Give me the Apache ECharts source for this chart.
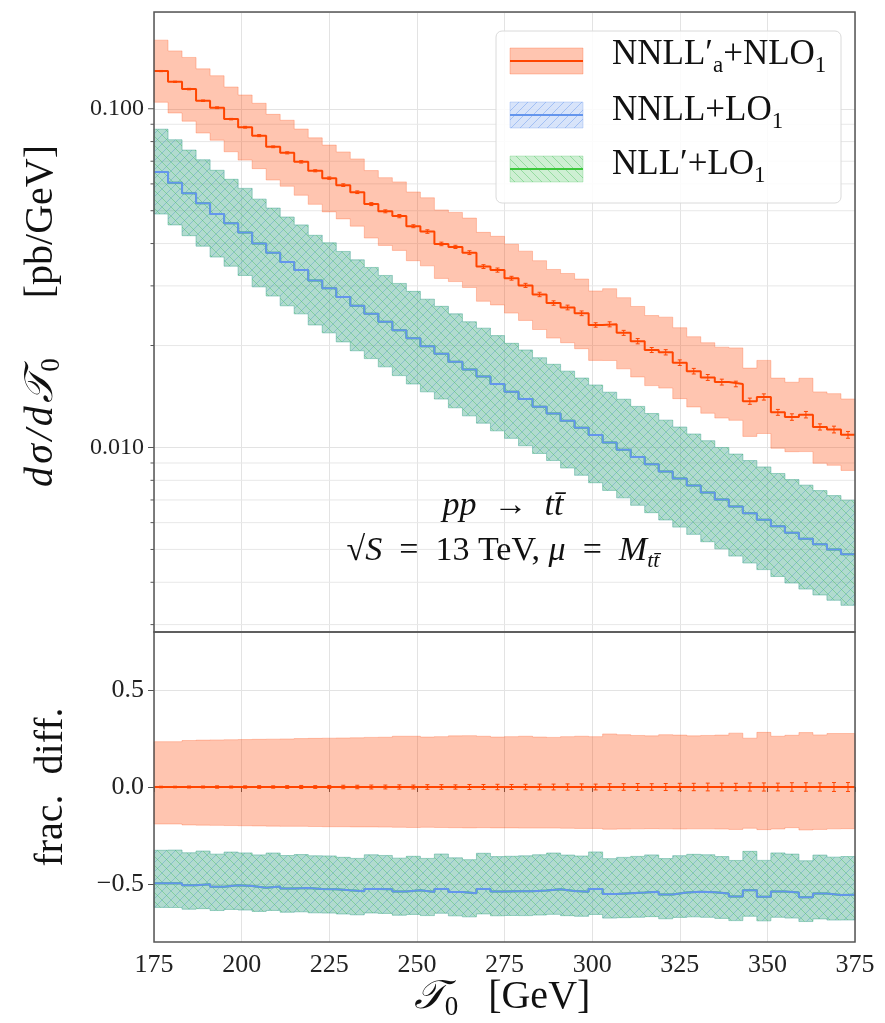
<!DOCTYPE html>
<html>
<head>
<meta charset="utf-8">
<script src="https://cdn.jsdelivr.net/npm/echarts@6/dist/echarts.min.js"></script>
<style>
html, body { margin: 0; padding: 0; background: #fff; }
#chart { width: 885px; height: 1023px; }
</style>
</head>
<body>
<div id="chart"></div>
<script>
// bin edges of the tau_0 histogram [GeV]
var binEdges = [175,179,183,187,191,195,199,203,207,211,215,219,223,227,231,235,239,243,247,251,255,259,263,267,271,275,279,283,287,291,295,299,303,307,311,315,319,323,327,331,335,339,343,347,351,355,359,363,367,371,375];

// NNLL'_a+NLO_1 central value [pb/GeV]
var orangeCentral = [0.1292,0.1201,0.1143,0.1056,0.1007,0.0932,0.0882,0.0833,0.0772,0.0741,
                     0.0697,0.0656,0.0624,0.0595,0.0567,0.0523,0.0498,0.0482,0.0450,0.0434,
                     0.0399,0.0391,0.0376,0.0342,0.0334,0.0316,0.0301,0.0283,0.0267,0.0259,
                     0.0249,0.0230,0.0231,0.0218,0.0206,0.0194,0.0191,0.0178,0.0168,0.0161,
                     0.0156,0.0154,0.0137,0.0141,0.0127,0.0123,0.0125,0.0115,0.0113,0.0109];
// NNLL'_a+NLO_1 scale band and MC error, relative to its central value
var orangeHi = [0.234,0.234,0.240,0.242,0.243,0.244,0.245,0.246,0.247,0.248,
                0.250,0.251,0.252,0.253,0.254,0.256,0.257,0.262,0.262,0.258,
                0.260,0.264,0.265,0.262,0.258,0.260,0.262,0.258,0.256,0.260,
                0.262,0.260,0.274,0.270,0.266,0.264,0.270,0.268,0.264,0.266,
                0.268,0.278,0.252,0.282,0.262,0.267,0.281,0.269,0.276,0.276];
var orangeLo = [-0.191,-0.191,-0.196,-0.197,-0.198,-0.199,-0.200,-0.201,-0.202,-0.203,
                -0.203,-0.204,-0.205,-0.205,-0.206,-0.206,-0.207,-0.208,-0.209,-0.208,
                -0.209,-0.210,-0.211,-0.210,-0.211,-0.211,-0.212,-0.212,-0.212,-0.213,
                -0.214,-0.214,-0.218,-0.217,-0.216,-0.215,-0.216,-0.217,-0.216,-0.216,
                -0.217,-0.219,-0.213,-0.220,-0.217,-0.210,-0.222,-0.219,-0.216,-0.215];
var statErr = [0.004,0.004,0.005,0.005,0.006,0.005,0.006,0.007,0.006,0.007,
               0.008,0.007,0.008,0.009,0.009,0.010,0.010,0.011,0.010,0.012,
               0.012,0.011,0.013,0.013,0.014,0.013,0.014,0.015,0.015,0.016,
               0.016,0.015,0.017,0.017,0.018,0.017,0.018,0.019,0.019,0.020,
               0.020,0.019,0.021,0.021,0.020,0.022,0.022,0.021,0.023,0.023];

// NNLL+LO_1 (and NLL'+LO_1, on top of it) central value and band [pb/GeV]
var blueCentral = [0.0651,0.0605,0.0563,0.0526,0.0489,0.0459,0.0431,0.0400,0.0376,0.0353,
                   0.0334,0.0311,0.0295,0.0278,0.0262,0.0248,0.0235,0.0222,0.0210,0.0199,
                   0.0189,0.0179,0.0170,0.0162,0.0154,0.0146,0.0139,0.0132,0.0126,0.0120,
                   0.01143,0.01088,0.01035,0.00985,0.00937,0.00892,0.00850,0.00810,0.00772,0.00736,
                   0.00702,0.00670,0.00640,0.00612,0.00585,0.00560,0.00538,0.00518,0.00500,0.00484];
var bandHi = [0.0870,0.0810,0.0755,0.0707,0.0658,0.0619,0.0582,0.0541,0.0509,0.0479,
              0.0454,0.0423,0.0402,0.0379,0.0358,0.0340,0.0322,0.0305,0.0289,0.0274,
              0.0261,0.0248,0.0235,0.0225,0.0214,0.0203,0.0194,0.0184,0.0176,0.0168,
              0.01603,0.01529,0.01456,0.01388,0.01322,0.01260,0.01204,0.01149,0.01096,0.01047,
              0.01000,0.00956,0.00915,0.00876,0.00838,0.00804,0.00774,0.00746,0.00721,0.00699];
var bandLo = [0.0489,0.0454,0.0422,0.0393,0.0365,0.0343,0.0322,0.0298,0.0280,0.0262,
              0.0248,0.0230,0.0218,0.0205,0.0193,0.0183,0.0173,0.0163,0.0154,0.0146,
              0.0139,0.0131,0.0124,0.0118,0.0112,0.01064,0.01012,0.00960,0.00915,0.00870,
              0.00828,0.00787,0.00747,0.00710,0.00675,0.00642,0.00611,0.00582,0.00554,0.00527,
              0.00502,0.00478,0.00456,0.00436,0.00416,0.00398,0.00382,0.00367,0.00354,0.00342];

var xTicks = [175,200,225,250,275,300,325,350,375];
var yMajorTicks = [0.01, 0.1];
var yMinorTicks = [0.003,0.004,0.005,0.006,0.007,0.008,0.009,0.02,0.03,0.04,0.05,0.06,0.07,0.08,0.09];
var fracTicks = [-0.5, 0, 0.5];

var FONT = "'Liberation Serif', 'DejaVu Serif', serif";
var ORANGE = '#ff4500', BLUE = '#6495ed', GREEN = '#3cc83c';
var nBins = binEdges.length - 1;

// upper panel: orange band in absolute units
function absolute(frac) {
	return orangeCentral.map(function (c, i) { return c * (1 + frac[i]); });
}
// lower panel: fractional difference to the NNLL'_a+NLO_1 central value
function fracDiff(vals) {
	return vals.map(function (v, i) { return v / orangeCentral[i] - 1; });
}
var zeros = fracDiff(orangeCentral);

function hatch(bg, line, dir) {
	var s = 9, c = document.createElement('canvas');
	c.width = s; c.height = s;
	var g = c.getContext('2d');
	g.fillStyle = bg; g.fillRect(0, 0, s, s);
	g.strokeStyle = line; g.lineWidth = 1;
	g.beginPath();
	if (dir > 0) {
		g.moveTo(0, s); g.lineTo(s, 0);
		g.moveTo(-1, 1); g.lineTo(1, -1);
		g.moveTo(s - 1, s + 1); g.lineTo(s + 1, s - 1);
	} else {
		g.moveTo(0, 0); g.lineTo(s, s);
		g.moveTo(-1, s - 1); g.lineTo(1, s + 1);
		g.moveTo(s - 1, -1); g.lineTo(s + 1, 1);
	}
	g.stroke();
	return { image: c, repeat: 'repeat' };
}
var orangeFill = 'rgba(255,69,0,0.31)';
var blueFill = hatch('rgba(100,149,237,0.25)', 'rgba(100,149,237,0.45)', 1);
var greenFill = hatch('rgba(60,190,80,0.25)', 'rgba(60,190,80,0.4)', -1);

function stepData(vals) {
	var d = [];
	for (var i = 0; i < nBins; i++) d.push([binEdges[i], vals[i]]);
	d.push([binEdges[nBins], vals[nBins - 1]]);
	return d;
}

function band(name, gi, lo, hi, fill, stroke, z) {
	return {
		name: name, type: 'custom', xAxisIndex: gi, yAxisIndex: gi, z: z, silent: true,
		data: lo.map(function (v, i) { return [binEdges[i], v, hi[i]]; }),
		encode: { x: 0, y: [1, 2] },
		renderItem: function (params, api) {
			if (params.dataIndex !== 0) return;
			var pts = [], i;
			for (i = 0; i < nBins; i++) {
				pts.push(api.coord([binEdges[i], hi[i]]));
				pts.push(api.coord([binEdges[i + 1], hi[i]]));
			}
			for (i = nBins - 1; i >= 0; i--) {
				pts.push(api.coord([binEdges[i + 1], lo[i]]));
				pts.push(api.coord([binEdges[i], lo[i]]));
			}
			return { type: 'polygon', shape: { points: pts }, style: { fill: fill, stroke: stroke, lineWidth: 1 } };
		}
	};
}

function stepLine(name, gi, vals, color, z) {
	return {
		name: name, type: 'line', step: 'end', xAxisIndex: gi, yAxisIndex: gi, z: z,
		data: stepData(vals), symbol: 'none', silent: true,
		lineStyle: { color: color, width: 2 }
	};
}

function errorBars(gi, centre, rel) {
	return {
		type: 'custom', xAxisIndex: gi, yAxisIndex: gi, z: 8, silent: true,
		data: centre.map(function (v, i) { return [(binEdges[i] + binEdges[i + 1]) / 2, v, statErr[i]]; }),
		encode: { x: 0, y: 1 },
		renderItem: function (params, api) {
			var x = api.value(0), v = api.value(1), e = api.value(2);
			var a = rel ? api.coord([x, v * (1 + e)]) : api.coord([x, v + e]);
			var b = rel ? api.coord([x, v * (1 - e)]) : api.coord([x, v - e]);
			var st = { stroke: ORANGE, lineWidth: 1 };
			return { type: 'group', children: [
				{ type: 'line', shape: { x1: a[0], y1: a[1], x2: b[0], y2: b[1] }, style: st },
				{ type: 'line', shape: { x1: a[0] - 2, y1: a[1], x2: a[0] + 2, y2: a[1] }, style: st },
				{ type: 'line', shape: { x1: b[0] - 2, y1: b[1], x2: b[0] + 2, y2: b[1] }, style: st }
			] };
		}
	};
}

// ticks of the log axis: majors at the decades, minors at 2..9 x 10^n (with their grid lines)
var logTickSeries = {
	type: 'custom', xAxisIndex: 0, yAxisIndex: 0, z: 1, silent: true, clip: false,
	data: yMajorTicks.map(function (v) { return [175, v, 6]; })
		.concat(yMinorTicks.map(function (v) { return [175, v, 3.5]; })),
	encode: { x: 0, y: 1 },
	renderItem: function (params, api) {
		var p = api.coord([175, api.value(1)]);
		var r = api.coord([375, api.value(1)]);
		var len = api.value(2);
		var children = [
			{ type: 'line', shape: { x1: p[0] - len, y1: p[1], x2: p[0], y2: p[1] }, style: { stroke: '#555', lineWidth: 1 } }
		];
		if (len < 5) children.push({ type: 'line', shape: { x1: p[0], y1: p[1], x2: r[0], y2: r[1] }, style: { stroke: '#e8e8e8', lineWidth: 1 } });
		return { type: 'group', children: children };
	}
};

var chart = echarts.init(document.getElementById('chart'));

var gridLine = { show: true, lineStyle: { color: '#e3e3e3', width: 1 } };
function sub(size) {
	return { fontFamily: FONT, fontSize: size, lineHeight: size, verticalAlign: 'bottom', fill: '#111' };
}

var option = {
	animation: false,
	backgroundColor: '#fff',
	grid: [
		{ left: 154, top: 12, width: 701, height: 620, show: true, borderColor: '#555', borderWidth: 1.5, backgroundColor: 'transparent', z: 20 },
		{ left: 154, top: 632, width: 701, height: 310, show: true, borderColor: '#555', borderWidth: 1.5, backgroundColor: 'transparent', z: 20 }
	],
	xAxis: [
		{ gridIndex: 0, type: 'value', min: 175, max: 375, interval: 25,
		  axisLine: { show: false }, axisTick: { show: false }, axisLabel: { show: false }, splitLine: gridLine },
		{ gridIndex: 1, type: 'value', min: 175, max: 375, interval: 25,
		  axisLine: { show: false },
		  axisTick: { show: true, length: 5, lineStyle: { color: '#555' } },
		  axisLabel: { margin: 10, fontFamily: FONT, fontSize: 26, color: '#222' }, splitLine: gridLine }
	],
	yAxis: [
		{ gridIndex: 0, type: 'log', logBase: 10, min: 0.002853, max: 0.19303,
		  axisLine: { show: false }, axisTick: { show: false },
		  axisLabel: { margin: 10, fontFamily: FONT, fontSize: 24, color: '#222', formatter: function (v) {
			  for (var k = 0; k < yMajorTicks.length; k++) {
				  if (Math.abs(v - yMajorTicks[k]) < 1e-9) return yMajorTicks[k].toFixed(3);
			  }
			  return '';
		  } },
		  splitLine: gridLine },
		{ gridIndex: 1, type: 'value', min: -0.8, max: 0.8,
		  axisLine: { show: false },
		  axisTick: { show: true, length: 6, lineStyle: { color: '#555' }, customValues: fracTicks },
		  axisLabel: { margin: 10, fontFamily: FONT, fontSize: 26, color: '#222', customValues: fracTicks, formatter: function (v) {
			  return v.toFixed(1).replace('-', '\u2212');
		  } },
		  splitLine: gridLine }
	],
	series: [
		logTickSeries,
		band('NNLL+LO1 band', 0, bandLo, bandHi, blueFill, 'rgba(100,149,237,0.3)', 3),
		band('NLL\'+LO1 band', 0, bandLo, bandHi, greenFill, 'rgba(60,190,80,0.25)', 3),
		band('NNLL\'a+NLO1 band', 0, absolute(orangeLo), absolute(orangeHi), orangeFill, 'rgba(255,69,0,0.25)', 3),
		stepLine('NLL\'+LO1', 0, blueCentral, GREEN, 5),
		stepLine('NNLL+LO1', 0, blueCentral, BLUE, 6),
		stepLine('NNLL\'a+NLO1', 0, orangeCentral, ORANGE, 7),
		errorBars(0, orangeCentral, true),

		band('NNLL+LO1 ratio band', 1, fracDiff(bandLo), fracDiff(bandHi), blueFill, 'rgba(100,149,237,0.3)', 3),
		band('NLL\'+LO1 ratio band', 1, fracDiff(bandLo), fracDiff(bandHi), greenFill, 'rgba(60,190,80,0.25)', 3),
		band('NNLL\'a+NLO1 ratio band', 1, orangeLo, orangeHi, orangeFill, 'rgba(255,69,0,0.25)', 3),
		stepLine('NLL\'+LO1 ratio', 1, fracDiff(blueCentral), GREEN, 5),
		stepLine('NNLL+LO1 ratio', 1, fracDiff(blueCentral), BLUE, 6),
		stepLine('NNLL\'a+NLO1 ratio', 1, zeros, ORANGE, 7),
		errorBars(1, zeros, false)
	],
	graphic: [
		// legend
		{ type: 'rect', z: 100, shape: { x: 496, y: 31, width: 345, height: 172, r: 6 },
		  style: { fill: 'rgba(255,255,255,0.85)', stroke: '#dadada', lineWidth: 1 } },
		{ type: 'rect', z: 101, shape: { x: 510, y: 48, width: 73, height: 26 }, style: { fill: orangeFill, stroke: 'rgba(255,69,0,0.25)' } },
		{ type: 'line', z: 102, shape: { x1: 510, y1: 61, x2: 583, y2: 61 }, style: { stroke: ORANGE, lineWidth: 2 } },
		{ type: 'rect', z: 101, shape: { x: 510, y: 102, width: 73, height: 26 }, style: { fill: blueFill, stroke: 'rgba(100,149,237,0.3)' } },
		{ type: 'line', z: 102, shape: { x1: 510, y1: 115, x2: 583, y2: 115 }, style: { stroke: BLUE, lineWidth: 2 } },
		{ type: 'rect', z: 101, shape: { x: 510, y: 156, width: 73, height: 26 }, style: { fill: greenFill, stroke: 'rgba(60,190,80,0.25)' } },
		{ type: 'line', z: 102, shape: { x1: 510, y1: 169, x2: 583, y2: 169 }, style: { stroke: GREEN, lineWidth: 2 } },
		{ type: 'text', z: 102, x: 612, y: 55, style: {
			text: '{m|NNLL\u2032}{s|a}{m|+NLO}{s|1}', verticalAlign: 'middle',
			rich: { m: { fontFamily: FONT, fontSize: 35, lineHeight: 44, fill: '#111' }, s: sub(23) } } },
		{ type: 'text', z: 102, x: 612, y: 111, style: {
			text: '{m|NNLL+LO}{s|1}', verticalAlign: 'middle',
			rich: { m: { fontFamily: FONT, fontSize: 35, lineHeight: 44, fill: '#111' }, s: sub(23) } } },
		{ type: 'text', z: 102, x: 612, y: 165, style: {
			text: '{m|NLL\u2032+LO}{s|1}', verticalAlign: 'middle',
			rich: { m: { fontFamily: FONT, fontSize: 35, lineHeight: 44, fill: '#111' }, s: sub(23) } } },
		// process annotation
		{ type: 'text', z: 102, x: 503, y: 506, style: {
			text: '{i|pp}{m|  \u2192  }{i|tt\u0304}', align: 'center', verticalAlign: 'middle',
			rich: { i: { fontFamily: FONT, fontStyle: 'italic', fontSize: 34, fill: '#111' },
			        m: { fontFamily: FONT, fontSize: 34, fill: '#111' } } } },
		{ type: 'text', z: 102, x: 503, y: 551, style: {
			text: '{m|\u221a}{i|S}{m|  =  13 TeV, }{i|\u03bc}{m|  =  }{i|M}{s|tt\u0304}', align: 'center', verticalAlign: 'middle',
			rich: { i: { fontFamily: FONT, fontStyle: 'italic', fontSize: 34, lineHeight: 42, fill: '#111' },
			        m: { fontFamily: FONT, fontSize: 34, lineHeight: 42, fill: '#111' },
			        s: { fontFamily: FONT, fontStyle: 'italic', fontSize: 22, lineHeight: 21, verticalAlign: 'bottom', fill: '#111' } } } },
		// axis titles
		{ type: 'text', z: 102, x: 41, y: 316, rotation: Math.PI / 2, style: {
			text: '{i|d\u200a\u03c3\u200a/\u200ad\u200a\ud835\udcaf}{s|0}{m|\u2003\u2002[pb/GeV]}', align: 'center', verticalAlign: 'middle',
			rich: { i: { fontFamily: FONT, fontStyle: 'italic', fontSize: 40, lineHeight: 48, fill: '#111' },
			        m: { fontFamily: FONT, fontSize: 40, lineHeight: 48, fill: '#111' }, s: sub(27) } } },
		{ type: 'text', z: 102, x: 51, y: 787, rotation: Math.PI / 2, style: {
			text: 'frac.\u2002diff.', align: 'center', verticalAlign: 'middle',
			fontFamily: FONT, fontSize: 40, fill: '#111' } },
		{ type: 'text', z: 102, x: 502, y: 997, style: {
			text: '{i|\ud835\udcaf}{s|0}{m|   [GeV]}', align: 'center', verticalAlign: 'middle',
			rich: { i: { fontFamily: FONT, fontStyle: 'italic', fontSize: 40, lineHeight: 48, fill: '#111' },
			        m: { fontFamily: FONT, fontSize: 40, lineHeight: 48, fill: '#111' }, s: sub(27) } } }
	]
};

chart.setOption(option);
</script>
</body>
</html>
